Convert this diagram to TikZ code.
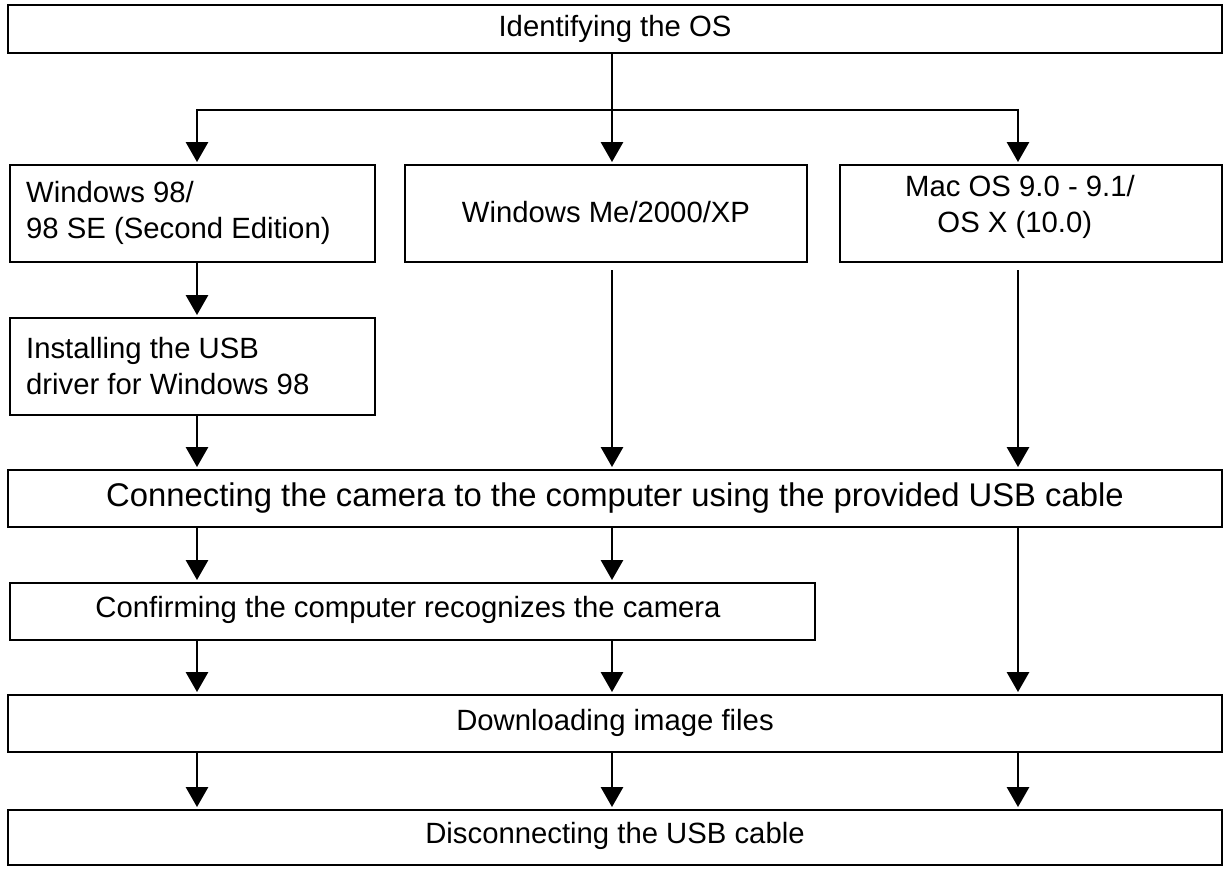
\documentclass[tikz,border=0pt]{standalone}
\usepackage{fontspec}
\setmainfont{Liberation Sans}
\usetikzlibrary{arrows.meta}
\begin{document}
\begin{tikzpicture}[x=0.03cm,y=-0.03cm,
  box/.style={draw,line width=1.2pt},
  arr/.style={line width=1.6pt,-{Triangle[length=17pt,width=19pt]}},
  txt/.style={font=\fontsize{25}{31}\selectfont,align=left},
  big/.style={font=\fontsize{28}{33}\selectfont}]
\useasboundingbox (0,0) rectangle (1231,873);
\draw[box] (8,5) rectangle (1222,53);
\node[txt] (os) at (615,29) {Identifying the OS};
\draw[box] (10,165) rectangle (375,262);
\node[txt,anchor=west] (w98) at (22,213) {Windows 98/\\98 SE (Second Edition)};
\draw[box] (405,165) rectangle (807,262);
\node[txt] (wme) at (606,212) {Windows Me/2000/XP};
\draw[box] (840,165) rectangle (1222,262);
\node[txt] (mac) at (1020,207) {Mac OS 9.0 - 9.1/\\\hspace*{1.1em}OS X (10.0)};
\draw[box] (10,318) rectangle (375,415);
\node[txt,anchor=west] (usb) at (22,366) {Installing the USB\\driver for Windows 98};
\draw[box] (8,470) rectangle (1222,527);
\node[big] (con) at (615,498) {Connecting the camera to the computer using the provided USB cable};
\draw[box] (10,583) rectangle (815,640);
\node[txt] (cf) at (408,610) {Confirming the computer recognizes the camera};
\draw[box] (8,695) rectangle (1222,752);
\node[txt] (dl) at (615,723) {Downloading image files};
\draw[box] (8,810) rectangle (1222,865);
\node[txt] (dc) at (615,836) {Disconnecting the USB cable};
\coordinate (s) at (612,53);
\coordinate (j) at (612,110);
\draw[line width=1.6pt] (s) -- (j);
\draw[line width=1.6pt] (197,110) -- (1018,110);
\foreach \x in {197,612,1018} \draw[arr] (\x,109) -- (\x,162);
\draw[arr] (197,262) -- (197,315);
\draw[arr] (197,415) -- (197,467);
\draw[arr] (612,270) -- (612,467);
\draw[arr] (1018,270) -- (1018,467);
\draw[arr] (197,527) -- (197,580);
\draw[arr] (612,527) -- (612,580);
\draw[arr] (1018,527) -- (1018,692);
\draw[arr] (197,640) -- (197,692);
\draw[arr] (612,640) -- (612,692);
\foreach \x in {197,612,1018} \draw[arr] (\x,752) -- (\x,807);
\end{tikzpicture}
\end{document}
